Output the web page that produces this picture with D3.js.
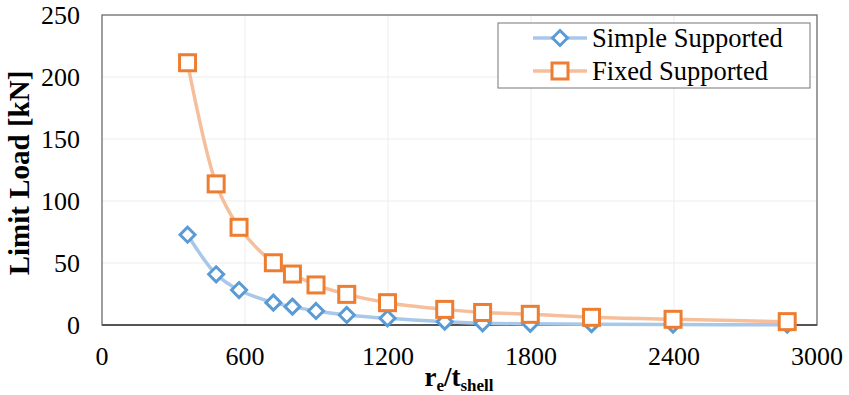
<!DOCTYPE html>
<html>
<head>
<meta charset="utf-8">
<script src="https://cdn.jsdelivr.net/npm/d3@7"></script>
<style>
  body { margin: 0; background: #fff; }
  text { font-family: "Liberation Serif", "Times New Roman", serif; }
</style>
</head>
<body>
<div class="chart"></div>
<script>
const svgWidth = 849, svgHeight = 395;
const margin = { top: 15, right: 32, bottom: 70, left: 102 };

// r_e / t_shell
var ratio = [359, 479, 575, 719, 799, 898, 1027, 1198, 1438, 1597, 1797, 2054, 2396, 2875];
var simpleLoad = [72.8, 40.9, 28.2, 18.0, 14.8, 11.3, 8.1, 5.4, 2.7, 1.4, 1.0, 0.7, 0.4, 0.2];
var fixedLoad = [211.5, 113.8, 78.8, 50.2, 41.1, 32.3, 24.7, 18.0, 12.6, 10.1, 8.6, 6.2, 4.6, 2.7];
var xTicks = [0, 600, 1200, 1800, 2400, 3000];
var yTicks = [0, 50, 100, 150, 200, 250];
var seriesNames = ["Simple Supported", "Fixed Supported"];

var plotW = svgWidth - margin.left - margin.right;
var plotH = svgHeight - margin.top - margin.bottom;

var svg = d3.select(".chart").append("svg")
    .attr("width", svgWidth).attr("height", svgHeight);

var x = d3.scaleLinear().domain([0, 3000]).range([margin.left, margin.left + plotW]);
var y = d3.scaleLinear().domain([0, 250]).range([margin.top + plotH, margin.top]);

// grid
svg.append("g").selectAll("line").data(yTicks.slice(1, -1)).enter().append("line")
    .attr("x1", x(0)).attr("x2", x(3000))
    .attr("y1", d => y(d)).attr("y2", d => y(d))
    .attr("stroke", "#ededed").attr("stroke-width", 1);
svg.append("g").selectAll("line").data(xTicks.slice(1, -1)).enter().append("line")
    .attr("y1", y(0)).attr("y2", y(250))
    .attr("x1", d => x(d)).attr("x2", d => x(d))
    .attr("stroke", "#ededed").attr("stroke-width", 1);

// plot border
svg.append("rect")
    .attr("x", x(0)).attr("y", y(250))
    .attr("width", x(3000) - x(0)).attr("height", y(0) - y(250))
    .attr("fill", "none").attr("stroke", "#6b6b6b").attr("stroke-width", 1.3);
svg.append("line")
    .attr("x1", x(0)).attr("x2", x(3000)).attr("y1", y(0)).attr("y2", y(0))
    .attr("stroke", "#555").attr("stroke-width", 2);

// tick labels
svg.append("g").selectAll("text").data(yTicks).enter().append("text")
    .attr("x", 80).attr("y", d => y(d)).attr("dy", "0.35em")
    .style("text-anchor", "end").style("font-size", "26px")
    .text(d => d);
svg.append("g").selectAll("text").data(xTicks).enter().append("text")
    .attr("x", d => x(d)).attr("y", 356).attr("dy", "0.35em")
    .style("text-anchor", "middle").style("font-size", "26px")
    .text(d => d);

// axis titles
svg.append("text")
    .attr("transform", "translate(29," + 173 + ") rotate(-90)")
    .style("text-anchor", "middle").style("font-size", "29px").style("font-weight", "bold")
    .text("Limit Load [kN]");
var xt = svg.append("text")
    .attr("x", 459).attr("y", 386)
    .style("text-anchor", "middle").style("font-size", "27px").style("font-weight", "bold");
xt.append("tspan").text("r");
xt.append("tspan").attr("dy", 5).style("font-size", "17px").text("e");
xt.append("tspan").attr("dy", -5).text("/t");
xt.append("tspan").attr("dy", 5).style("font-size", "17px").text("shell");

// series
var line = d3.line().curve(d3.curveCatmullRom.alpha(0.5))
    .x(d => x(d[0])).y(d => y(d[1]));

function diamond(r) {
    return "M0," + (-r) + "L" + r + ",0L0," + r + "L" + (-r) + ",0Z";
}

var simpleData = ratio.map((r, i) => [r, simpleLoad[i]]);
var fixedData = ratio.map((r, i) => [r, fixedLoad[i]]);

svg.append("path").datum(simpleData)
    .attr("d", line).attr("fill", "none")
    .attr("stroke", "#a8c8ea").attr("stroke-width", 3.5);
svg.append("g").selectAll("path").data(simpleData).enter().append("path")
    .attr("transform", d => "translate(" + x(d[0]) + "," + y(d[1]) + ")")
    .attr("d", diamond(7.5))
    .attr("fill", "#fff").attr("stroke", "#5b9bd5").attr("stroke-width", 3);

svg.append("path").datum(fixedData)
    .attr("d", line).attr("fill", "none")
    .attr("stroke", "#f6bf9c").attr("stroke-width", 3.5);
svg.append("g").selectAll("rect").data(fixedData).enter().append("rect")
    .attr("x", d => x(d[0]) - 8).attr("y", d => y(d[1]) - 8)
    .attr("width", 16).attr("height", 16)
    .attr("fill", "#fff").attr("stroke", "#ed7d31").attr("stroke-width", 3);

// legend
var lg = svg.append("g");
lg.append("rect")
    .attr("x", 498).attr("y", 23).attr("width", 312).attr("height", 65)
    .attr("fill", "#fff").attr("stroke", "#777").attr("stroke-width", 1);
var rows = [38, 71];
lg.selectAll("line").data(seriesNames).enter().append("line")
    .attr("x1", 533).attr("x2", 587)
    .attr("y1", (d, i) => rows[i]).attr("y2", (d, i) => rows[i])
    .attr("stroke", (d, i) => i == 0 ? "#a8c8ea" : "#f6bf9c").attr("stroke-width", 3.5);
lg.append("path")
    .attr("transform", "translate(560," + rows[0] + ")")
    .attr("d", diamond(7.5))
    .attr("fill", "#fff").attr("stroke", "#5b9bd5").attr("stroke-width", 3);
lg.append("rect")
    .attr("x", 552).attr("y", rows[1] - 8).attr("width", 16).attr("height", 16)
    .attr("fill", "#fff").attr("stroke", "#ed7d31").attr("stroke-width", 3);
lg.selectAll("text").data(seriesNames).enter().append("text")
    .attr("x", 592).attr("y", (d, i) => rows[i]).attr("dy", "0.33em")
    .style("font-size", "26.5px")
    .text(d => d);
</script>
</body>
</html>
